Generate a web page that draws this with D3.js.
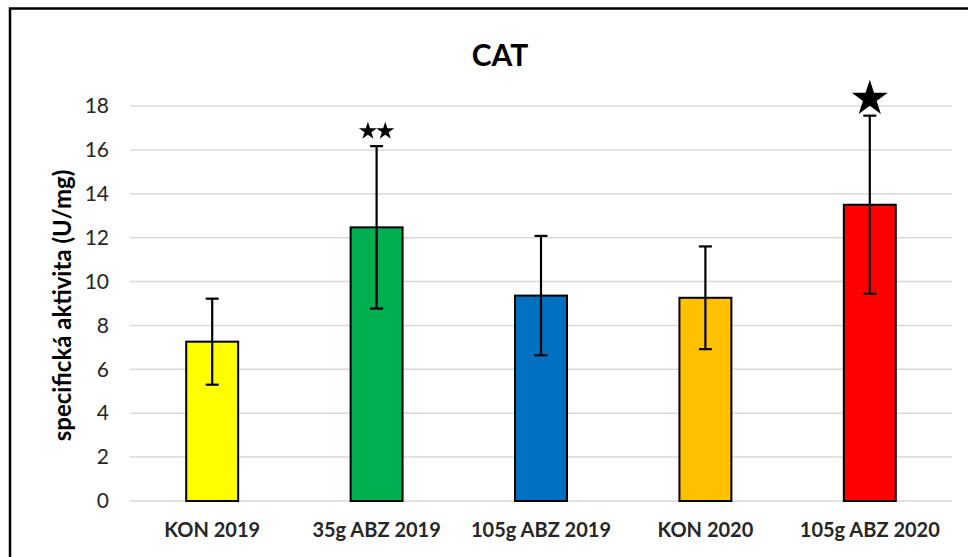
<!DOCTYPE html>
<html>
<head>
<meta charset="utf-8">
<script src="https://cdn.jsdelivr.net/npm/d3@7"></script>
<style>
  html, body { margin: 0; padding: 0; background: #fff; }
  svg { display: block; }
</style>
</head>
<body>
<svg id="chart" width="968" height="557"></svg>
<script>
// Catalase (CAT) specific activity per group
const categories = ["KON 2019", "35g ABZ 2019", "105g ABZ 2019", "KON 2020", "105g ABZ 2020"];
const means      = [7.26, 12.47, 9.36, 9.26, 13.50];
const errors     = [1.96, 3.70, 2.72, 2.34, 4.06];
const barColors  = ["#FFFF00", "#00B050", "#0070C0", "#FFC000", "#FF0000"];
const stars      = [0, 2, 0, 0, 1];           // significance markers per group
const yTicks     = [0, 2, 4, 6, 8, 10, 12, 14, 16, 18];

const fontFamily = "Lato, 'Open Sans', 'Liberation Sans', sans-serif";
const svg = d3.select("#chart");

// Outer frame
svg.append("path")
  .attr("d", "M10,558 V8.5 H968")
  .attr("fill", "none")
  .attr("stroke", "#000")
  .attr("stroke-width", 2.5);

const plot = { left: 130, right: 952, top: 106, bottom: 501 };

const x = d3.scaleBand()
  .domain(categories)
  .range([plot.left, plot.right])
  .paddingInner(0.684)
  .paddingOuter(0.342);

const y = d3.scaleLinear()
  .domain([0, 18])
  .range([plot.bottom, plot.top]);

// Horizontal gridlines
svg.append("g")
  .selectAll("line")
  .data(yTicks)
  .join("line")
  .attr("x1", plot.left)
  .attr("x2", plot.right)
  .attr("y1", d => y(d))
  .attr("y2", d => y(d))
  .attr("stroke", "#d9d9d9")
  .attr("stroke-width", 1.5);

// Y axis tick labels
const yAxis = d3.axisLeft(y).tickValues(yTicks).tickSize(0).tickPadding(0);
const gy = svg.append("g")
  .attr("transform", `translate(${plot.left - 21},0)`)
  .call(yAxis);
gy.select(".domain").remove();
gy.selectAll("text")
  .attr("font-family", fontFamily)
  .attr("font-size", 21)
  .attr("fill", "#262626");

// X axis category labels
const xAxis = d3.axisBottom(x).tickSize(0).tickPadding(0);
const gx = svg.append("g")
  .attr("transform", `translate(0,${plot.bottom + 22})`)
  .call(xAxis);
gx.select(".domain").remove();
gx.selectAll("text")
  .attr("font-family", fontFamily)
  .attr("font-size", 20)
  .attr("font-weight", "bold")
  .attr("fill", "#262626");

// Bars
svg.append("g")
  .selectAll("rect")
  .data(categories)
  .join("rect")
  .attr("x", d => x(d))
  .attr("width", x.bandwidth())
  .attr("y", (d, i) => y(means[i]))
  .attr("height", (d, i) => y(0) - y(means[i]))
  .attr("fill", (d, i) => barColors[i])
  .attr("stroke", "#000")
  .attr("stroke-width", 2);

// Error bars
const capW = 13;
const eb = svg.append("g")
  .attr("stroke", "#000")
  .attr("stroke-width", 2.2);
categories.forEach((c, i) => {
  const cx = x(c) + x.bandwidth() / 2;
  const hi = y(means[i] + errors[i]);
  const lo = y(means[i] - errors[i]);
  eb.append("line").attr("x1", cx).attr("x2", cx).attr("y1", hi).attr("y2", lo);
  eb.append("line").attr("x1", cx - capW / 2).attr("x2", cx + capW / 2).attr("y1", hi).attr("y2", hi);
  eb.append("line").attr("x1", cx - capW / 2).attr("x2", cx + capW / 2).attr("y1", lo).attr("y2", lo);
});

// Significance stars above error bars
const starG = svg.append("g");
categories.forEach((c, i) => {
  const n = stars[i];
  if (!n) return;
  const cx = x(c) + x.bandwidth() / 2;
  const top = y(means[i] + errors[i]);
  const size = n === 1 ? 400 : 100;
  const r = Math.sqrt(size / 1.2);
  const gap = n === 1 ? 17 : 15;
  const spacing = 2 * r * 0.95;
  for (let k = 0; k < n; k++) {
    const sx = cx + (k - (n - 1) / 2) * spacing;
    starG.append("path")
      .attr("d", d3.symbol(d3.symbolStar, size)())
      .attr("transform", `translate(${sx},${top - gap})`)
      .attr("fill", "#000");
  }
});

// Title
svg.append("text")
  .attr("x", 500)
  .attr("y", 66)
  .attr("text-anchor", "middle")
  .attr("font-family", fontFamily)
  .attr("font-size", 30)
  .attr("font-weight", "bold")
  .attr("fill", "#000")
  .text("CAT");

// Y axis title
svg.append("text")
  .attr("transform", `translate(71,${(plot.top + plot.bottom) / 2 + 2}) rotate(-90)`)
  .attr("text-anchor", "middle")
  .attr("font-family", fontFamily)
  .attr("font-size", 24)
  .attr("font-weight", "bold")
  .attr("fill", "#000")
  .text("specifická aktivita (U/mg)");
</script>
</body>
</html>
